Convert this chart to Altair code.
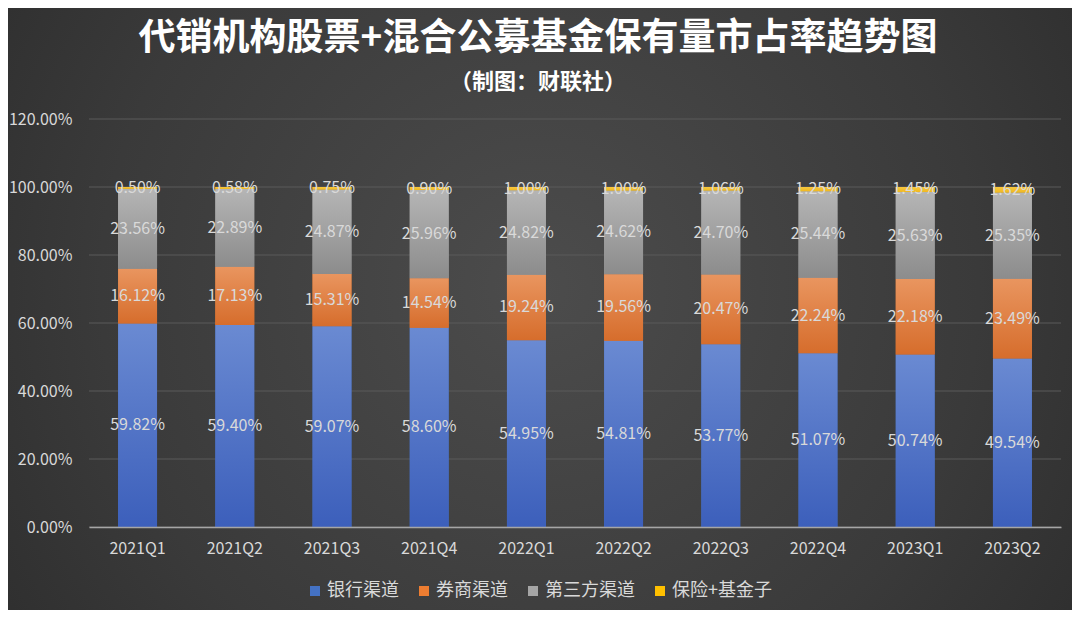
import altair as alt
import pandas as pd

quarters = ["2021Q1", "2021Q2", "2021Q3", "2021Q4", "2022Q1",
            "2022Q2", "2022Q3", "2022Q4", "2023Q1", "2023Q2"]
bank = [59.82, 59.40, 59.07, 58.60, 54.95, 54.81, 53.77, 51.07, 50.74, 49.54]
broker = [16.12, 17.13, 15.31, 14.54, 19.24, 19.56, 20.47, 22.24, 22.18, 23.49]
third = [23.56, 22.89, 24.87, 25.96, 24.82, 24.62, 24.70, 25.44, 25.63, 25.35]
insur = [0.50, 0.58, 0.75, 0.90, 1.00, 1.00, 1.06, 1.25, 1.45, 1.62]

series_names = ["银行渠道", "券商渠道", "第三方渠道", "保险+基金子"]
legend_colors = ["#4472c4", "#ed7d31", "#a5a5a5", "#ffc000"]
grad_top = ["#6a8ad2", "#e9955f", "#b5b5b5", "#f8c840"]
grad_bot = ["#3c5fbb", "#d66d2c", "#8c8c8c", "#f0b820"]

y_ticks = [0, 20, 40, 60, 80, 100, 120]
title_text = "代销机构股票+混合公募基金保有量市占率趋势图"
subtitle_text = "（制图：财联社）"

rows = []
for i, vals in enumerate([bank, broker, third, insur]):
    for q, v in zip(quarters, vals):
        rows.append({"quarter": q, "series": series_names[i], "order": i, "value": v})
df = pd.DataFrame(rows)

FONT = "Noto Sans CJK SC"
W, H = 972, 408
PL, PT, PR, PB = 81, 111, 11, 83
TXT = "#d9d9d9"

base = alt.Chart(df).transform_stack(
    stack="value", groupby=["quarter"], as_=["v0", "v1"],
    sort=[alt.SortField("order", order="ascending")]
)

x_enc = alt.X("quarter:N", sort=quarters,
              scale=alt.Scale(paddingInner=0.6, paddingOuter=0.3),
              axis=alt.Axis(title=None, labelAngle=0, labelFontSize=16, labelColor=TXT,
                            labelFont=FONT, labelPadding=13, ticks=False,
                            domainColor="#a6a6a6", domainWidth=1.5, zindex=1))
y_scale = alt.Scale(domain=[0, 120], nice=False)
y_enc = alt.Y("v0:Q", scale=y_scale,
              axis=alt.Axis(title=None, values=y_ticks,
                            labelExpr="format(datum.value, '.2f') + '%'",
                            labelFontSize=16, labelColor=TXT, labelFont=FONT,
                            labelPadding=17, ticks=False, domain=False,
                            grid=False, zindex=1))

bg = alt.Chart(pd.DataFrame({"d": [0]})).mark_rect(
    fill=alt.RadialGradient(
        gradient="radial",
        stops=[alt.GradientStop(color="#4c4c4c", offset=0),
               alt.GradientStop(color="#3a3a3a", offset=0.55),
               alt.GradientStop(color="#262626", offset=1)],
        x1=0.5, y1=0.48, r1=0, x2=0.5, y2=0.48, r2=0.75)
).encode(x=alt.value(-PL), x2=alt.value(W + PR), y=alt.value(-PT), y2=alt.value(H + PB))

grid = alt.Chart(pd.DataFrame({"t": y_ticks})).mark_rule(
    color="#5a5a5a", strokeWidth=1
).encode(y=alt.Y("t:Q", scale=y_scale), x=alt.value(0), x2=alt.value(W))

legend_bars = base.mark_bar().encode(
    x=x_enc, y=y_enc, y2="v1:Q",
    color=alt.Color("series:N", sort=series_names,
                    scale=alt.Scale(domain=series_names, range=legend_colors),
                    legend=alt.Legend(orient="none", legendX=217, legendY=463,
                                      direction="horizontal", title=None,
                                      labelFontSize=18, labelColor=TXT, labelFont=FONT,
                                      symbolType="square", symbolSize=100,
                                      symbolStrokeWidth=0, columnPadding=16,
                                      labelOffset=3))
)

grads = []
for i in range(4):
    grads.append(
        base.transform_filter(alt.datum.order == i).mark_bar(
            fill=alt.LinearGradient(
                gradient="linear",
                stops=[alt.GradientStop(color=grad_top[i], offset=0),
                       alt.GradientStop(color=grad_bot[i], offset=1)],
                x1=0, y1=0, x2=0, y2=1)
        ).encode(x=x_enc, y=y_enc, y2="v1:Q")
    )

labels = base.transform_calculate(
    mid="(datum.v0 + datum.v1) / 2",
    lbl="format(datum.value, '.2f') + '%'"
).mark_text(fontSize=16, color=TXT, font=FONT).encode(
    x=x_enc, y=alt.Y("mid:Q"), text="lbl:N"
)

tdf = pd.DataFrame({"txt": [title_text, subtitle_text], "kind": ["t", "s"]})
TX = 449
title = alt.Chart(tdf).transform_filter(alt.datum.kind == "t").mark_text(
    font=FONT, fontSize=37, fontWeight="bold", color="#ffffff",
    baseline="middle", align="center"
).encode(text="txt:N", x=alt.value(TX), y=alt.value(-80))
sub = alt.Chart(tdf).transform_filter(alt.datum.kind == "s").mark_text(
    font=FONT, fontSize=22, fontWeight="bold", color="#ffffff",
    baseline="middle", align="center"
).encode(text="txt:N", x=alt.value(TX), y=alt.value(-37))

chart = alt.layer(bg, grid, legend_bars, *grads, labels, title, sub).properties(
    width=W, height=H,
    padding={"left": PL, "top": PT, "right": PR, "bottom": PB},
    autosize=alt.AutoSizeParams(type="none"),
).configure(background="#333333").configure_view(stroke=None)

chart.save("out.html", embed_options={"renderer": "svg", "actions": False})
